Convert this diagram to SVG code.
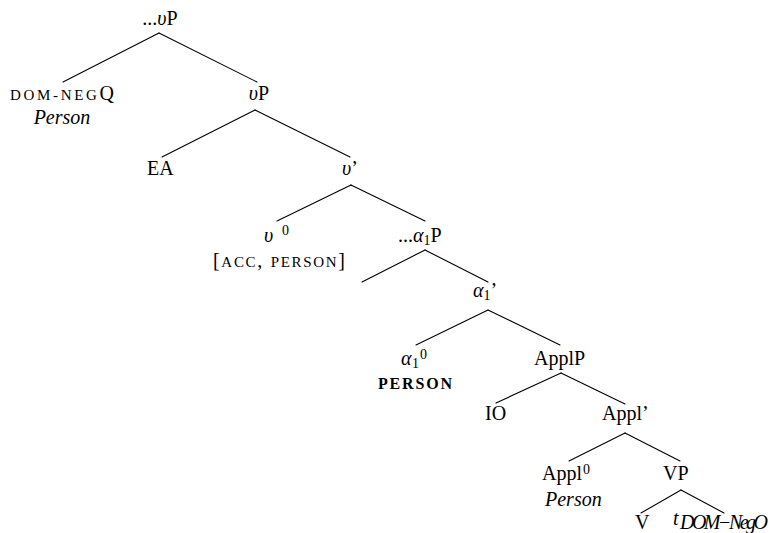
<svg xmlns="http://www.w3.org/2000/svg" width="771" height="533" viewBox="0 0 771 533">
  <style>
    text { font-family: "Liberation Serif", "Times New Roman", serif; font-size: 20px; fill: #000; }
    .it { font-style: italic; }
    .sc { font-size: 15px; }
    .sub { font-size: 14px; }
    .bold { font-weight: bold; font-size: 16px; }
    .edges line { stroke: #000; stroke-width: 1.1; stroke-linecap: round; }
  </style>
  <rect width="771" height="533" fill="#fff"/>

  <!-- tree branches -->
  <g class="edges" id="edges">
    <line x1="159" y1="33" x2="63" y2="82"/>
    <line x1="159" y1="33" x2="257" y2="82"/>
    <line x1="255" y1="110" x2="162" y2="157"/>
    <line x1="255" y1="110" x2="350" y2="157"/>
    <line x1="351" y1="185" x2="277" y2="221"/>
    <line x1="351" y1="185" x2="425" y2="221"/>
    <line x1="425" y1="250" x2="362" y2="282"/>
    <line x1="425" y1="250" x2="488" y2="282"/>
    <line x1="488" y1="310" x2="416" y2="345"/>
    <line x1="488" y1="310" x2="560" y2="345"/>
    <line x1="561" y1="373" x2="496" y2="403"/>
    <line x1="561" y1="373" x2="625" y2="404"/>
    <line x1="625" y1="433" x2="569" y2="461"/>
    <line x1="625" y1="433" x2="680" y2="461"/>
    <line x1="681" y1="490" x2="641" y2="513"/>
    <line x1="681" y1="490" x2="724" y2="513"/>
  </g>

  <g id="n-top-vP">
    <text x="160" y="25" text-anchor="middle">...<tspan class="it">υ</tspan>P</text>
  </g>

  <g id="n-domnegq">
    <text x="10" y="100" textLength="104" lengthAdjust="spacing"><tspan class="sc" font-size="16">DOM-NEG</tspan>Q</text>
    <text x="62" y="124" text-anchor="middle" class="it">Person</text>
  </g>

  <g id="n-vP">
    <text x="259" y="100" text-anchor="middle"><tspan class="it">υ</tspan>P</text>
  </g>

  <g id="n-EA">
    <text x="147" y="175">EA</text>
  </g>

  <g id="n-vbar">
    <text x="342" y="175"><tspan class="it">υ</tspan>’</text>
  </g>

  <g id="n-v0">
    <text x="264" y="242" class="it">υ</text>
    <text x="282" y="235" class="sub">0</text>
    <text x="213" y="267" textLength="132" lengthAdjust="spacing">[<tspan class="sc">ACC</tspan>, <tspan class="sc">PERSON</tspan>]</text>
  </g>

  <g id="n-a1P">
    <text x="398" y="242">...<tspan class="it">α</tspan><tspan class="sub" dy="3">1</tspan><tspan dy="-3">P</tspan></text>
  </g>

  <g id="n-a1bar">
    <text x="473" y="297"><tspan class="it">α</tspan><tspan class="sub" dy="3">1</tspan><tspan dy="-3">’</tspan></text>
  </g>

  <g id="n-a10">
    <text x="401" y="365" class="it">α</text>
    <text x="412" y="368" class="sub">1</text>
    <text x="420" y="359" class="sub">0</text>
    <text x="378" y="389" class="bold" textLength="74" lengthAdjust="spacing">PERSON</text>
  </g>

  <g id="n-ApplP">
    <text x="534" y="365">ApplP</text>
  </g>

  <g id="n-IO">
    <text x="485" y="420">IO</text>
  </g>

  <g id="n-Applbar">
    <text x="602" y="420">Appl’</text>
  </g>

  <g id="n-Appl0">
    <text x="542" y="480">Appl</text>
    <text x="583" y="474" class="sub">0</text>
    <text x="545" y="506" class="it">Person</text>
  </g>

  <g id="n-VP">
    <text x="663" y="480">VP</text>
  </g>

  <g id="n-V">
    <text x="635" y="529">V</text>
  </g>

  <g id="n-trace">
    <text x="673" y="525" class="it">t</text>
    <text x="680" y="529" class="it" font-size="14" textLength="88" lengthAdjust="spacing">DOM−NegO</text>
  </g>
</svg>
